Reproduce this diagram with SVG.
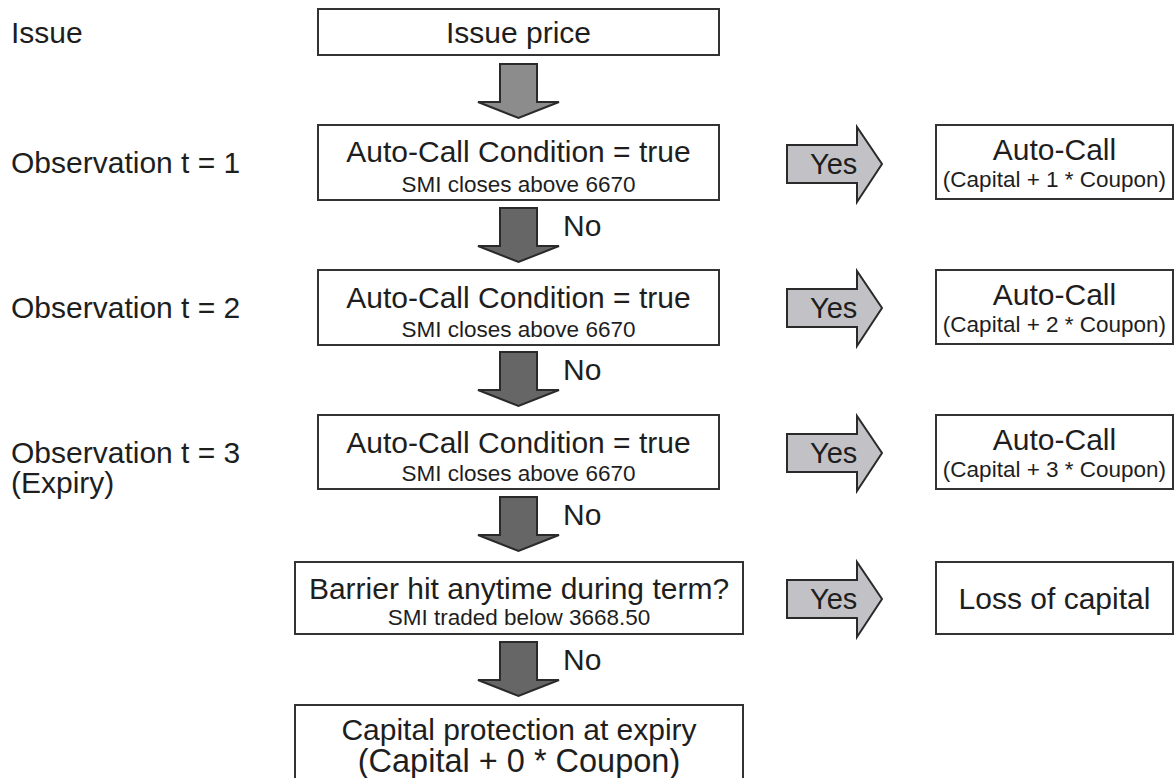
<svg xmlns="http://www.w3.org/2000/svg" width="1175" height="778" viewBox="0 0 1175 778">
<style>
text{font-family:"Liberation Sans",Arial,sans-serif;fill:#1e1e1e}
.m{font-size:30px}
.s{font-size:22.5px}
.c{text-anchor:middle}
.box{fill:#fff;stroke:#333;stroke-width:2}
.dl{fill:#8c8c8c;stroke:#2a2a2a;stroke-width:2;stroke-linejoin:miter}
.dd{fill:#666666;stroke:#2a2a2a;stroke-width:2;stroke-linejoin:miter}
.ya{fill:#c2c2c6;stroke:#2a2a2a;stroke-width:2;stroke-linejoin:miter}
</style>
<defs>
<path id="down" d="M0,0 H37 V38 H59 L18.5,54 L-22,38 H0 Z"/>
<path id="yes" d="M0,18 H70 V0 L95,37 L70,75 V56 H0 Z"/>
</defs>
<rect width="1175" height="778" fill="#fff"/>
<g id="labels">
<text class="m" x="11" y="43">Issue</text>
<text class="m" x="11" y="173">Observation t = 1</text>
<text class="m" x="11" y="318">Observation t = 2</text>
<text class="m" x="11" y="463">Observation t = 3</text>
<text class="m" x="11" y="493">(Expiry)</text>
</g>
<g id="n_issue">
<rect class="box" x="318" y="9" width="401" height="46"/>
<text class="m c" x="518.5" y="43">Issue price</text>
</g>
<g id="n_obs1">
<rect class="box" x="318" y="125" width="401" height="75"/>
<text class="m c" x="518.5" y="162">Auto-Call Condition = true</text>
<text class="s c" x="518.5" y="192">SMI closes above 6670</text>
</g>
<g id="n_obs2">
<rect class="box" x="318" y="270" width="401" height="75"/>
<text class="m c" x="518.5" y="308">Auto-Call Condition = true</text>
<text class="s c" x="518.5" y="337">SMI closes above 6670</text>
</g>
<g id="n_obs3">
<rect class="box" x="318" y="415" width="401" height="74"/>
<text class="m c" x="518.5" y="453">Auto-Call Condition = true</text>
<text class="s c" x="518.5" y="481">SMI closes above 6670</text>
</g>
<g id="n_barrier">
<rect class="box" x="295" y="562" width="448" height="72"/>
<text class="m c" x="519" y="599">Barrier hit anytime during term?</text>
<text class="s c" x="519" y="625">SMI traded below 3668.50</text>
</g>
<g id="n_final">
<rect class="box" x="295" y="705" width="448" height="90"/>
<text class="m c" x="519" y="740">Capital protection at expiry</text>
<text class="c" x="519" y="772" style="font-size:32.5px">(Capital + 0 * Coupon)</text>
</g>
<g id="n_call1">
<rect class="box" x="936" y="125" width="237" height="74"/>
<text class="m c" x="1054.5" y="160">Auto-Call</text>
<text class="s c" x="1054.5" y="187">(Capital + 1 * Coupon)</text>
</g>
<g id="n_call2">
<rect class="box" x="936" y="270" width="237" height="74"/>
<text class="m c" x="1054.5" y="305">Auto-Call</text>
<text class="s c" x="1054.5" y="332">(Capital + 2 * Coupon)</text>
</g>
<g id="n_call3">
<rect class="box" x="936" y="415" width="237" height="74"/>
<text class="m c" x="1054.5" y="450">Auto-Call</text>
<text class="s c" x="1054.5" y="477">(Capital + 3 * Coupon)</text>
</g>
<g id="n_loss">
<rect class="box" x="936" y="562" width="237" height="72"/>
<text class="m c" x="1054.5" y="609">Loss of capital</text>
</g>
<g id="connectors">
<use href="#down" class="dl" x="500" y="64"/>
<use href="#down" class="dd" x="500" y="208"/>
<use href="#down" class="dd" x="500" y="352"/>
<use href="#down" class="dd" x="500" y="497"/>
<use href="#down" class="dd" x="500" y="642"/>
<text class="m" x="563" y="236">No</text>
<text class="m" x="563" y="380">No</text>
<text class="m" x="563" y="525">No</text>
<text class="m" x="563" y="670">No</text>
<use href="#yes" class="ya" x="787" y="127"/>
<use href="#yes" class="ya" x="787" y="271"/>
<use href="#yes" class="ya" x="787" y="416"/>
<use href="#yes" class="ya" x="787" y="562"/>
<text class="m" x="810" y="174" style="font-size:29px">Yes</text>
<text class="m" x="810" y="318" style="font-size:29px">Yes</text>
<text class="m" x="810" y="463" style="font-size:29px">Yes</text>
<text class="m" x="810" y="609" style="font-size:29px">Yes</text>
</g>
</svg>
